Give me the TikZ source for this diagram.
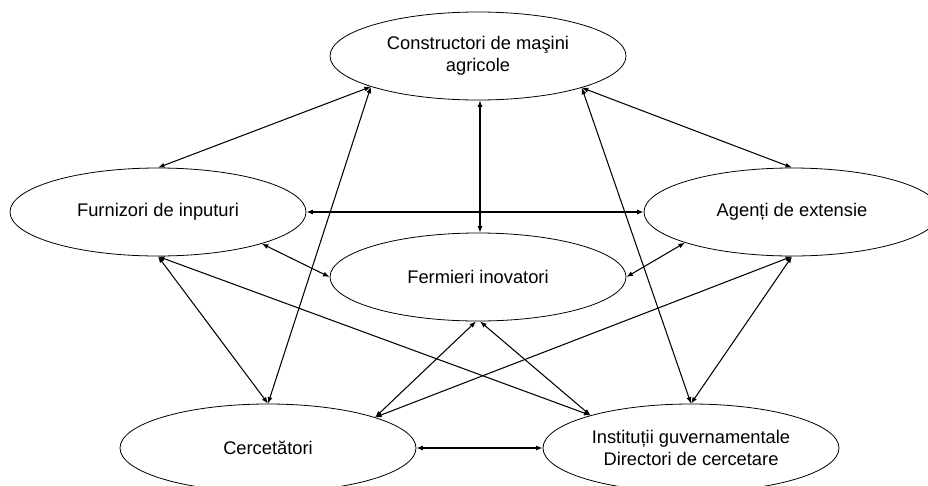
\documentclass[tikz,border=0pt]{standalone}
\usepackage{fontspec}
\setmainfont{Liberation Sans}
\usetikzlibrary{shapes.geometric,arrows.meta}
\begin{document}
\begin{tikzpicture}[x=1pt,y=-1pt,
  actor/.style={ellipse,draw,line width=0.8pt,minimum width=296pt,minimum height=88pt,
    inner sep=0pt,align=center,font=\fontsize{18.3}{22}\selectfont},
  link/.style={{Latex[length=6.5pt,width=5pt]}-{Latex[length=6.5pt,width=5pt]},line width=1.05pt}]
\useasboundingbox (0,0) rectangle (928,485);
\clip (0,0) rectangle (928,485);
\fill[white] (0,0) rectangle (928,485);

% actors of the innovation network
\node[actor] (cm) at (478,56)  {Constructori de maşini\\agricole};
\node[actor] (fi) at (158,212) {Furnizori de inputuri};
\node[actor] (ag) at (792,212) {Agenți de extensie};
\node[actor] (fe) at (478,277) {Fermieri inovatori};
\node[actor] (ce) at (268,448) {Cercetători};
\node[actor] (ig) at (691,448) {Instituții guvernamentale\\Directori de cercetare};

% two-way relations
\draw[link] (cm.196.3) -- (fi.north);
\draw[link] (cm.196.3) -- (ce.north);
\draw[link] ([xshift=2pt]cm.south) -- ([xshift=2pt]fe.north);
\draw[link] (cm.343.8) -- (ag.north);
\draw[link] (cm.343.8) -- (ig.north);
\draw[link] (fi.east) -- (ag.west);
\draw[link] (fi.343.8) -- (fe.west);
\draw[link] (ag.196.3) -- (fe.east);
\draw[link] (fi.south) -- (ce.north);
\draw[link] (fi.south) -- (ig.162.6);
\draw[link] (ag.south) -- (ce.16.8);
\draw[link] (ag.south) -- (ig.north);
\draw[link] ([xshift=-2pt]fe.south) -- (ce.16.8);
\draw[link] ([xshift=2pt]fe.south) -- (ig.162.6);
\draw[link] (ce.east) -- (ig.west);
\end{tikzpicture}
\end{document}
